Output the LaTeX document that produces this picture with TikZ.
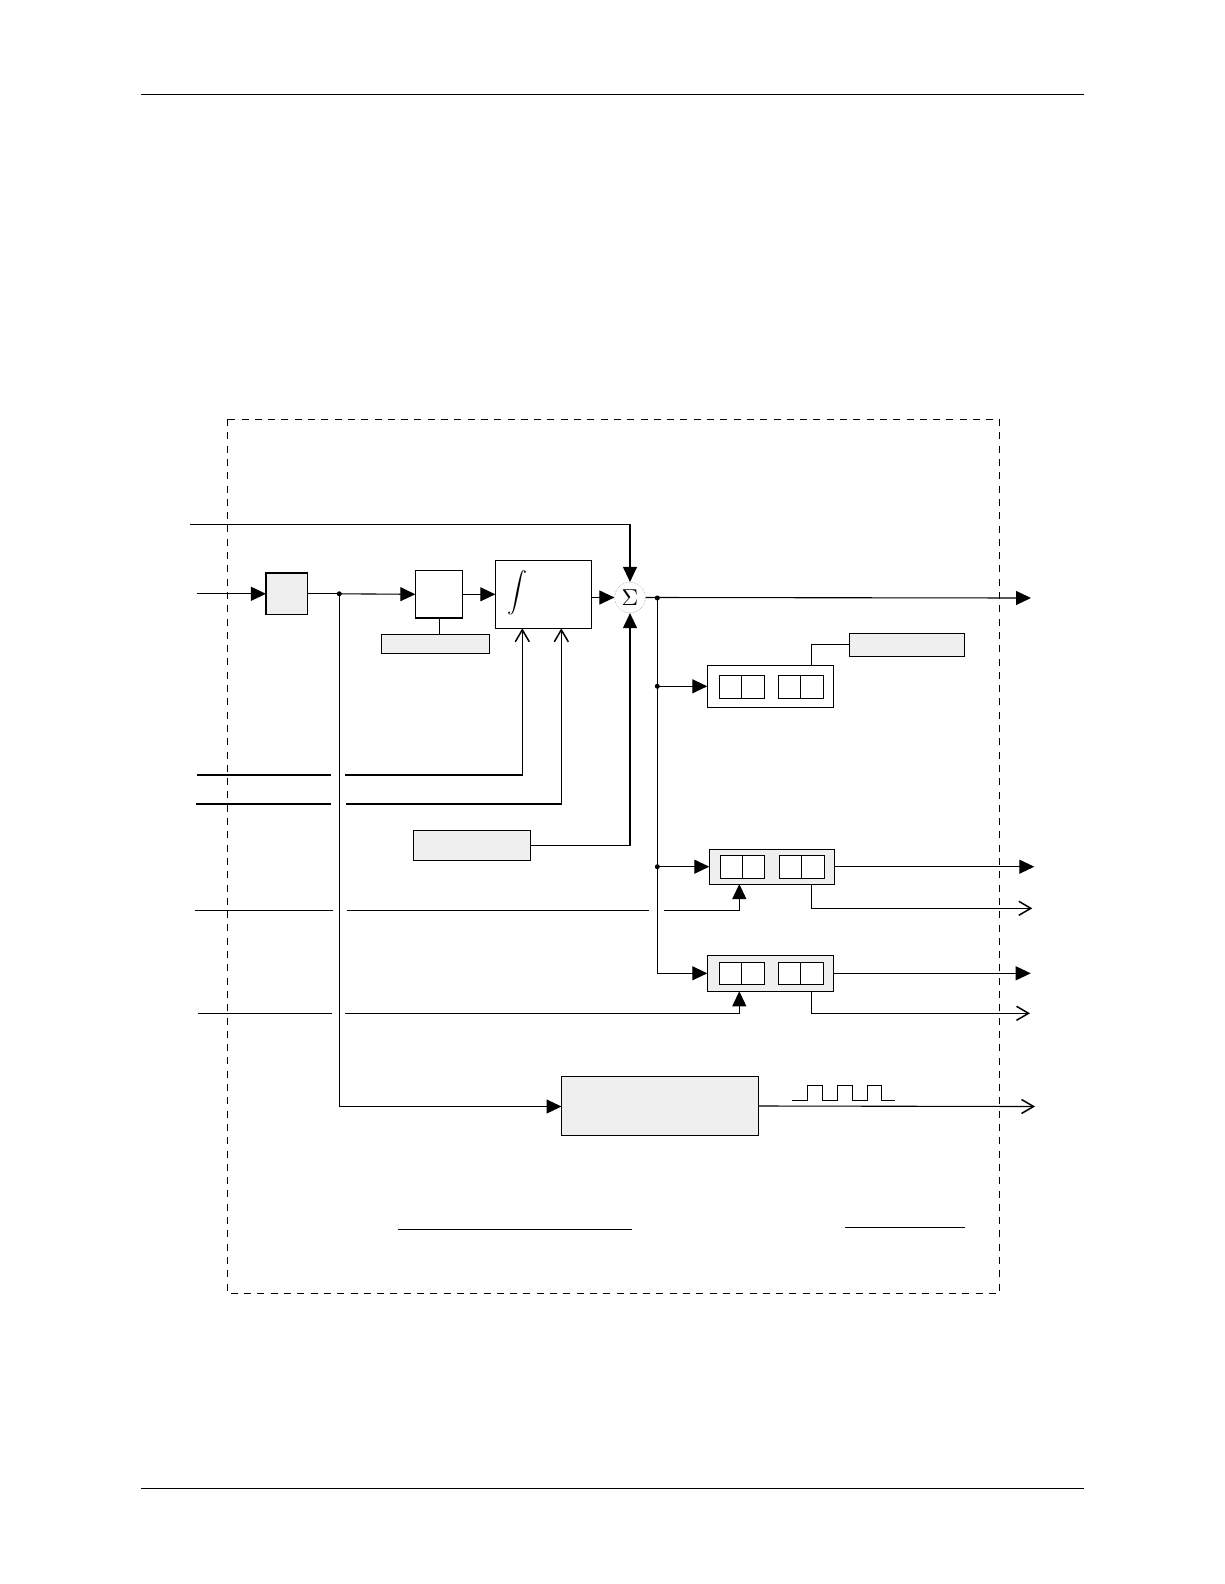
\documentclass[tikz,border=0pt]{standalone}
\usetikzlibrary{arrows.meta}
\definecolor{boxgray}{HTML}{EFEFEF}
\begin{document}
\begin{tikzpicture}[x=1pt,y=-1pt,
  ln/.style={line width=1.1pt},
  fa/.style={ln,-{Triangle[length=15pt,width=14pt]}},
  oa/.style={ln,-{Straight Barb[length=12pt,width=14pt,line width=1.5pt]}},
  gbox/.style={draw,line width=1.1pt,fill=boxgray,inner sep=0pt,outer sep=0pt},
  wbox/.style={draw,line width=1.1pt,fill=white,inner sep=0pt,outer sep=0pt},
  dotnode/.style={circle,fill,inner sep=0pt,minimum size=5pt}]
\useasboundingbox (0,0) rectangle (1224,1584);
% page rules and dashed frame
\draw[line width=1pt] (141,95) -- (1083.5,95);
\draw[line width=1pt] (141,1488.3) -- (1083.5,1488.3);
\draw[line width=1pt,dash pattern=on 7pt off 6.3pt] (227.3,419) rectangle (999.5,1293.3);
% blocks
\node[gbox,minimum width=41.7pt,minimum height=41.7pt] (b1) at (286.8,593.8) {};
\node[wbox,minimum width=47.4pt,minimum height=47.3pt] (b2) at (439,594.3) {};
\node[gbox,minimum width=108pt,minimum height=19pt] (g1) at (435.3,643.8) {};
\node[wbox,minimum width=96pt,minimum height=68pt] (integ) at (543.3,594.3) {};
\node[inner sep=0pt,scale=2] (intsym) at (517,593) {$\displaystyle\int$};
\node[circle,draw=gray!70,densely dotted,line width=0.6pt,minimum size=30.6pt,inner sep=0pt] (sigma) at (630,597.5) {};
\node[inner sep=0pt,scale=2.3] (sigmasym) at (sigma.center) {$\Sigma$};
\node[gbox,minimum width=117.4pt,minimum height=30.3pt] (gx) at (472,845.2) {};
\node[gbox,minimum width=115pt,minimum height=23pt] (g2) at (906.8,644.8) {};
\node[gbox,minimum width=197pt,minimum height=59.3pt] (pwm) at (660,1106) {};
% registers
\node[wbox,minimum width=126pt,minimum height=42pt] (r1) at (770.3,686.3) {};
\node[wbox,minimum width=45pt,minimum height=23pt] (r1a) at (741.8,686.8) {};
\node[wbox,minimum width=45pt,minimum height=23pt] (r1b) at (800.8,686.8) {};
\node[gbox,minimum width=125pt,minimum height=34.7pt] (r2) at (771.8,866.7) {};
\node[wbox,minimum width=44pt,minimum height=23.3pt] (r2a) at (742.3,866.7) {};
\node[wbox,minimum width=45pt,minimum height=23.3pt] (r2b) at (801.8,866.7) {};
\node[gbox,minimum width=126pt,minimum height=36pt] (r3) at (770.3,973.3) {};
\node[wbox,minimum width=45pt,minimum height=22pt] (r3a) at (741.8,973.3) {};
\node[wbox,minimum width=45pt,minimum height=22pt] (r3b) at (800.8,973.3) {};
\foreach \c in {r1a,r1b,r2a,r2b,r3a,r3b}{\draw[ln] (\c.north) -- (\c.south);}
% coordinates
\coordinate (in1) at (190,524.3);
\coordinate (in2) at (196.7,593.8);
\coordinate (j1) at (339.3,593.8);
\coordinate (jb) at (339.3,1106.5);
\coordinate (j2) at (657.3,598);
\coordinate (j3) at (657.3,686.3);
\coordinate (j4) at (657.3,866.7);
\coordinate (j5) at (657.3,973.3);
\coordinate (out1) at (1031,598);
\coordinate (xr) at (811.3,0);
\coordinate (xa) at (739.3,0);
\coordinate (ia) at (522.3,0);
\coordinate (ib) at (561.3,0);
\coordinate (in3) at (196.7,775);
\coordinate (g3l) at (331,775);
\coordinate (g3r) at (345,775);
\coordinate (in4) at (196,804);
\coordinate (g4l) at (331,804);
\coordinate (g4r) at (346,804);
\coordinate (in5) at (195,910.3);
\coordinate (g5a) at (332.7,910.3);
\coordinate (g5b) at (346.7,910.3);
\coordinate (g5c) at (648.7,910.3);
\coordinate (g5d) at (664,910.3);
\coordinate (in6) at (198,1013.3);
\coordinate (g6a) at (332,1013.3);
\coordinate (g6b) at (345,1013.3);
\coordinate (o2) at (1034.3,866.7);
\coordinate (o3) at (1032.3,908.3);
\coordinate (o4) at (1030.7,973.3);
\coordinate (o5) at (1030,1013.3);
\coordinate (o6) at (1035,1106.5);
% connectors
\draw[fa] (in1) -| (sigma.north);
\draw[fa] (in2) -- (b1.west);
\draw[ln] (b1.east) -- (j1);
\draw[fa] (j1) -- (b2.west);
\draw[fa] (b2.east) -- (integ.west);
\draw[line width=0.8pt] (b2.south) -- (b2.south |- g1.north);
\draw[fa] (integ.east |- sigma.west) -- (sigma.west);
\draw[fa] (sigma.east) -- (out1);
\draw[ln] (j2) -- (j5);
\draw[fa] (j3) -- (r1.west);
\draw[fa] (j4) -- (r2.west);
\draw[fa] (j5) -- (r3.west);
\draw[ln] (xr |- r1.north) |- (g2.west);
\draw[ln] (in3) -- (g3l);
\draw[oa] (g3r) -| (ia |- integ.south);
\draw[ln] (in4) -- (g4l);
\draw[oa] (g4r) -| (ib |- integ.south);
\draw[fa] (gx.east) -| (sigma.south);
\draw[ln] (in5) -- (g5a);
\draw[ln] (g5b) -- (g5c);
\draw[fa] (g5d) -| (xa |- r2.south);
\draw[ln] (in6) -- (g6a);
\draw[fa] (g6b) -| (xa |- r3.south);
\draw[fa] (r2.east) -- (o2);
\draw[oa] (xr |- r2.south) |- (o3);
\draw[fa] (r3.east) -- (o4);
\draw[oa] (xr |- r3.south) |- (o5);
\draw[ln] (j1) -- (jb);
\draw[fa] (jb) -- (pwm.west |- jb);
\draw[oa] (pwm.east) -- (o6);
% junction dots
\node[dotnode] (d1) at (j1) {};
\node[dotnode] (d2) at (j2) {};
\node[dotnode] (d3) at (j3) {};
\node[dotnode] (d4) at (j4) {};
% pulse train
\draw[line width=1pt] (792,1100.3) -- (807.6,1100.3) -- (807.6,1085) -- (822.3,1085) -- (822.3,1100.3) -- (837.4,1100.3) -- (837.4,1085) -- (852.6,1085) -- (852.6,1100.3) -- (867.3,1100.3) -- (867.3,1085) -- (881,1085) -- (881,1100.3) -- (895.3,1100.3);
% lines near the bottom
\draw[ln] (398,1229.3) -- (632,1229.3);
\draw[ln] (845,1227.3) -- (965,1227.3);
\end{tikzpicture}
\end{document}
